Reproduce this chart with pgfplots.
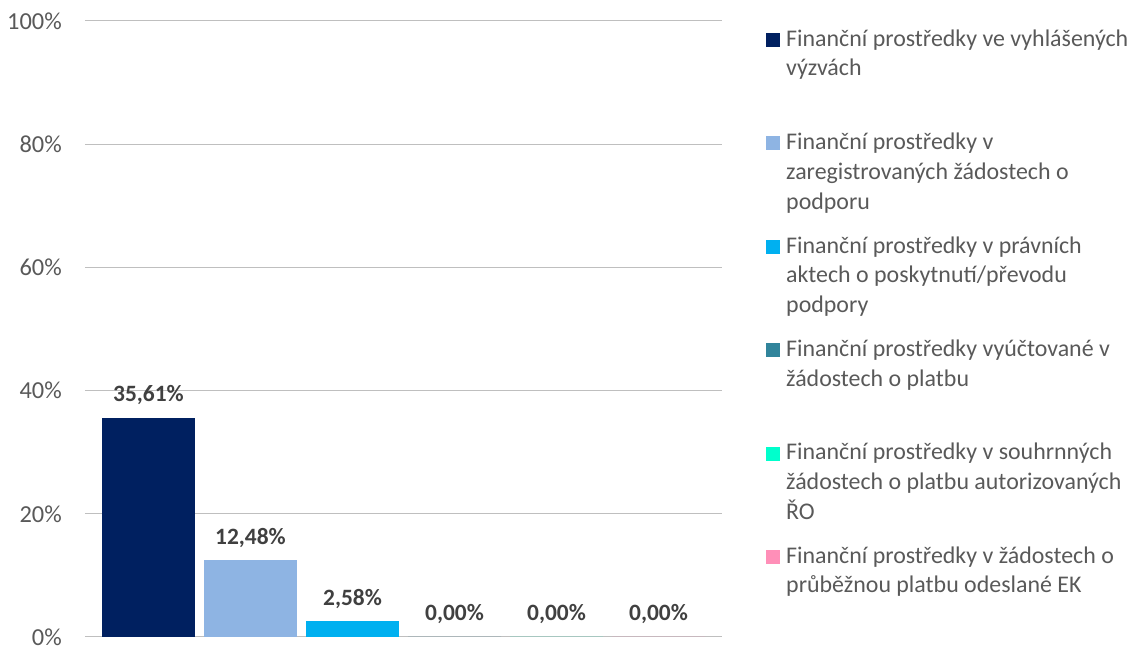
\documentclass[border=0pt]{standalone}
\usepackage{pgfplots}
\pgfplotsset{compat=1.18}
\usepackage{fontspec}
\setmainfont{Carlito}
\definecolor{c1}{HTML}{002060}
\definecolor{c2}{HTML}{8EB4E3}
\definecolor{c3}{HTML}{00B0F0}
\definecolor{c4}{HTML}{31849B}
\definecolor{c5}{HTML}{00FFCC}
\definecolor{c6}{HTML}{FF8FB8}
\definecolor{txt}{HTML}{595959}
\definecolor{lbl}{HTML}{404040}
\definecolor{grid}{HTML}{D9D9D9}
\begin{document}
\begin{tikzpicture}[x=1bp,y=1bp]
\useasboundingbox (-85,-9) rectangle (1047,637);
\begin{axis}[
  at={(0,0)}, anchor=origin,
  scale only axis, width=637bp, height=616bp,
  xmin=0, xmax=637, ymin=0, ymax=100,
  axis line style={draw=none},
  major tick length=0pt,
  ytick={0,20,...,100}, xtick=\empty,
  ymajorgrids, grid style={grid, line width=1bp},
  yticklabel={\pgfmathprintnumber{\tick}\%},
  yticklabel style={font=\fontsize{24.5}{28}\selectfont, text=txt, inner sep=0pt, xshift=-23bp},
  /pgf/number format/assume math mode=true,
  ybar=9bp, bar width=93bp,
  every axis plot/.append style={draw=none},
  nodes near coords={\pgfmathprintnumber[fixed,fixed zerofill,precision=2,use comma,assume math mode=true]{\pgfplotspointmeta}\%},
  nodes near coords style={font=\fontsize{23.5}{27}\selectfont\bfseries, text=lbl, anchor=base, yshift=16bp, inner sep=0pt},
]
\addplot[fill=c1] coordinates {(318.5,35.61)};
\addplot[fill=c2] coordinates {(318.5,12.48)};
\addplot[fill=c3] coordinates {(318.5,2.58)};
\addplot[fill=c4] coordinates {(318.5,0)};
\addplot[fill=c5] coordinates {(318.5,0)};
\addplot[fill=c6] coordinates {(318.5,0)};
\end{axis}
% legend
\begin{scope}[every node/.style={anchor=base west, inner sep=0pt, align=left, text=txt, font=\fontsize{24}{30}\selectfont}]
\foreach \i/\n/\c/\t in {
  0/2/c1/{Finanční prostředky ve vyhlášených\\výzvách},
  1/3/c2/{Finanční prostředky v\\zaregistrovaných žádostech o\\podporu},
  2/3/c3/{Finanční prostředky v právních\\aktech o poskytnutí/převodu\\podpory},
  3/2/c4/{Finanční prostředky vyúčtované v\\žádostech o platbu},
  4/3/c5/{Finanční prostředky v souhrnných\\žádostech o platbu autorizovaných\\ŘO},
  5/2/c6/{Finanční prostředky v žádostech o\\průběžnou platbu odeslané EK}}{
  \fill[\c] (681,{590-103.4*\i}) rectangle (695,{604-103.4*\i});
  \node at (701,{591-103.4*\i-30*(\n-1)}) {\t};
}
\end{scope}
\end{tikzpicture}
\end{document}
